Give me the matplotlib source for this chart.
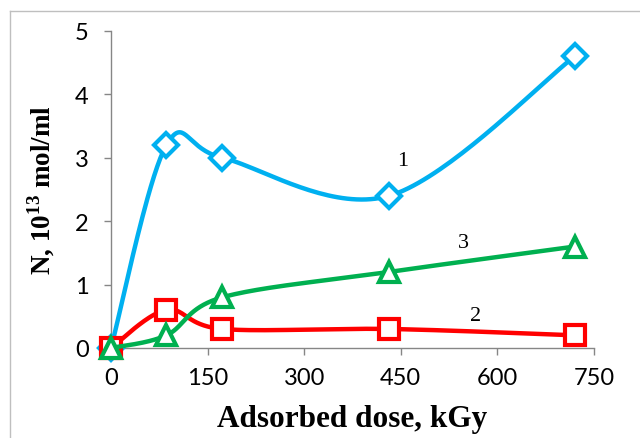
import numpy as np
import matplotlib
matplotlib.use("Agg")
import matplotlib.pyplot as plt
from matplotlib.lines import Line2D

dose = [0, 86, 173, 432, 720]
series1 = [0, 3.2, 3.0, 2.4, 4.6]
series2 = [0, 0.6, 0.3, 0.3, 0.2]
series3 = [0, 0.2, 0.8, 1.2, 1.6]
x_ticks = [0, 150, 300, 450, 600, 750]
y_ticks = [0, 1, 2, 3, 4, 5]

plt.rcParams['mathtext.fontset'] = 'custom'
plt.rcParams['mathtext.bf'] = 'Liberation Serif:bold'
plt.rcParams['mathtext.rm'] = 'Liberation Serif:bold'

fig = plt.figure(figsize=(6.4, 4.39), dpi=100)
ax = fig.add_axes([111/640, 1-349/439, (594-111)/640, (349-32)/439])
ax.set_xlim(0, 750)
ax.set_ylim(0, 5)

W = 594-111
H = 349-32

def smooth(xs, ys, n=40):
    px = np.array(xs, float)/750*W
    py = np.array(ys, float)/5*H
    P = np.column_stack([px, py])
    out = []
    m = len(P)
    for i in range(m-1):
        p0 = P[i-1] if i > 0 else P[i]
        p1 = P[i]
        p2 = P[i+1]
        p3 = P[i+2] if i+2 < m else P[i+1]
        c1 = p1 + (p2-p0)/6
        c2 = p2 - (p3-p1)/6
        t = np.linspace(0, 1, n)[:, None]
        seg = (1-t)**3*p1 + 3*(1-t)**2*t*c1 + 3*(1-t)*t**2*c2 + t**3*p2
        out.append(seg if i == 0 else seg[1:])
    S = np.vstack(out)
    return S[:, 0]/W*750, S[:, 1]/H*5

specs = [
    (series1, '#00B0F0', 'D', 12),
    (series2, '#FF0000', 's', 14),
    (series3, '#00B050', '^', 15),
]
z = 3
for ys, c, mk, ms in specs:
    sx, sy = smooth(dose, ys)
    ax.plot(sx, sy, color=c, lw=3.2, clip_on=False, zorder=z, solid_capstyle='round')
    ax.plot(dose, ys, linestyle='none', marker=mk, markersize=ms, markerfacecolor='white',
            markeredgecolor=c, markeredgewidth=3, clip_on=False, zorder=z + 0.5)
    z += 1

for side in ['top', 'right']:
    ax.spines[side].set_visible(False)
for side in ['left', 'bottom']:
    ax.spines[side].set_color('#868686')
    ax.spines[side].set_linewidth(1.0)

ax.set_xticks(x_ticks)
ax.set_yticks(y_ticks)
ax.tick_params(axis='both', colors='#868686', length=5, width=1.0, direction='out',
               labelcolor='black', labelsize=17)
ax.tick_params(axis='x', pad=9)
ax.tick_params(axis='y', pad=11)
for lab in ax.get_xticklabels() + ax.get_yticklabels():
    lab.set_fontfamily('Lato')

ax.set_xlabel('Adsorbed dose, kGy', fontfamily='Liberation Serif', fontweight='bold', fontsize=22.5, labelpad=11)
ax.set_ylabel(r'N, 10$^{\mathbf{13}}$ mol/ml', fontfamily='Liberation Serif', fontweight='bold', fontsize=19.5, labelpad=13)

ax.text(453, 2.95, '1', fontfamily='Liberation Serif', fontsize=16, ha='center', va='center')
ax.text(548, 1.67, '3', fontfamily='Liberation Serif', fontsize=16, ha='center', va='center')
ax.text(566, 0.51, '2', fontfamily='Liberation Serif', fontsize=16, ha='center', va='center')

fig.add_artist(Line2D([10/640, 10/640], [0, 1-12/439], transform=fig.transFigure, color='#BFBFBF', lw=1))
fig.add_artist(Line2D([10/640, 1], [1-12/439, 1-12/439], transform=fig.transFigure, color='#BFBFBF', lw=1))

fig.savefig('out.png', dpi=100)
